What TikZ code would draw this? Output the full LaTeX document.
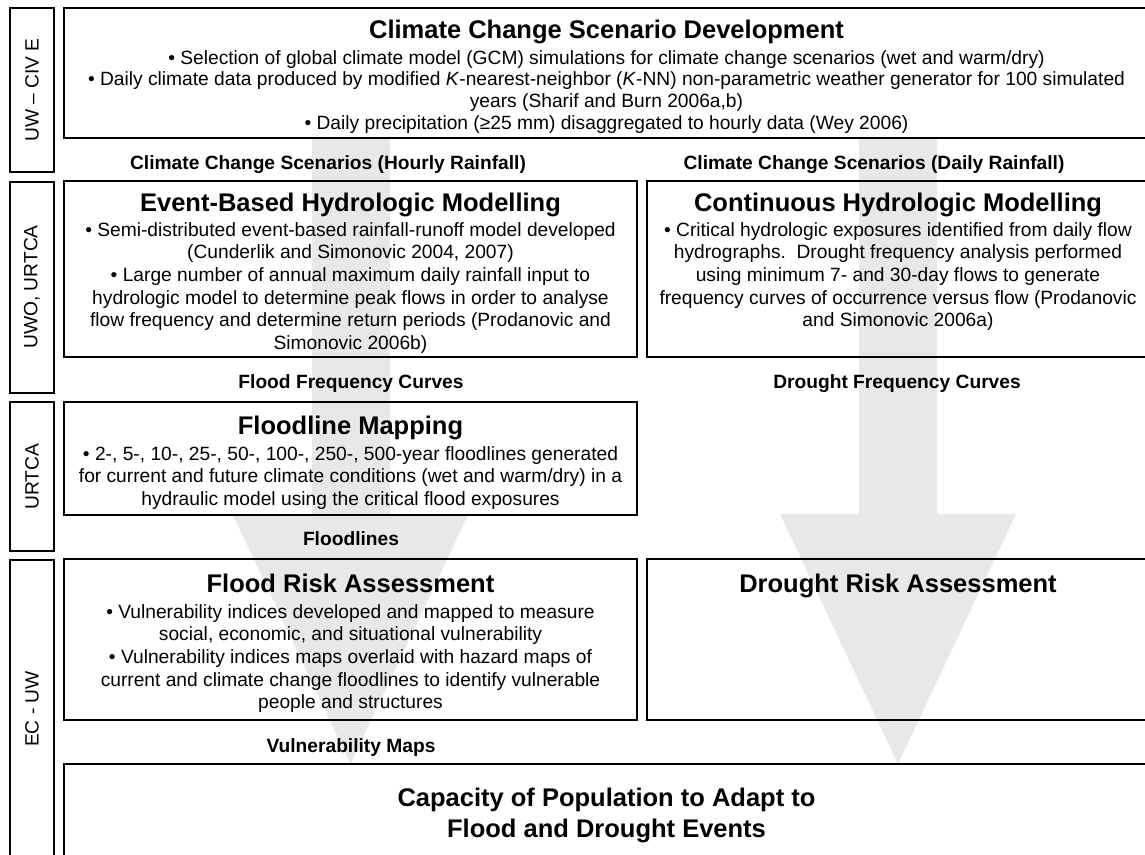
\documentclass[tikz,border=0pt]{standalone}
\usepackage{fontspec}
\setmainfont{Liberation Sans}
\usetikzlibrary{arrows.meta, positioning, calc, backgrounds}
\definecolor{flowgray}{RGB}{232,232,232}
\newcommand{\headfont}{\fontsize{25.5}{31}\selectfont\bfseries}
\newcommand{\bodyfont}{\fontsize{19.2}{22.7}\selectfont}

\begin{document}
\begin{tikzpicture}[x=1pt, y=-1pt,
    panel/.style={draw, line width=2pt, anchor=north west, inner sep=0pt, outer sep=0pt},
    side/.style={draw, line width=2pt, rotate=90, minimum width=#1, minimum height=44,
                 inner sep=0pt, outer sep=0pt, font=\bodyfont},
    head/.style={anchor=base, inner sep=0pt, font=\headfont},
    body/.style={anchor=north, inner sep=0pt, align=center, font=\bodyfont},
    flowlbl/.style={anchor=base, inner sep=0pt, font=\bodyfont\bfseries},
    bigflow/.style={flowgray, line width=78pt,
                    -{Triangle[length=250pt, width=236pt, line width=0pt]}}]
  \useasboundingbox (0,0) rectangle (1145,854);

  % Organisations
  \foreach \i/\yc/\h/\t in {1/90/164/UW – CIV E, 2/287/211/{UWO, URTCA},
                            3/476.5/149/URTCA, 4/709/298/EC - UW} {
    \node[side=\h] (org\i) at (32,\yc) {\t};
  }

  % Panels
  \node[panel, minimum width=1085, minimum height=130] (scen)  at (64,8)   {};
  \node[panel, minimum width=573,  minimum height=176] (event) at (64,181) {};
  \node[panel, minimum width=502,  minimum height=176] (cont)  at (647,181) {};
  \node[panel, minimum width=573,  minimum height=113] (fmap)  at (64,402) {};
  \node[panel, minimum width=573,  minimum height=161] (frisk) at (64,559) {};
  \node[panel, minimum width=502,  minimum height=161] (drisk) at (647,559) {};
  \node[panel, minimum width=1085, minimum height=94]  (adapt) at (64,764) {};

  % Flow arrows
  \begin{scope}[on background layer]
    \draw[bigflow] (scen.south -| event.center) -- (adapt.north -| event.center);
    \draw[bigflow] (scen.south -| cont.center) -- (adapt.north -| cont.center);
  \end{scope}

  % Scenario development
  \node[head] (scen-t) at ($(scen.north)+(0,30)$) {Climate Change Scenario Development};
  \node[body, font=\fontsize{19.2}{21.8}\selectfont] (scen-b) at ($(scen.north)+(0,42)$) {%
    • Selection of global climate model (GCM) simulations for climate change scenarios (wet and warm/dry)\\
    • Daily climate data produced by modified \textit{K}-nearest-neighbor (\textit{K}-NN) non-parametric weather generator for 100 simulated\\
    years (Sharif and Burn 2006a,b)\\
    • Daily precipitation (≥25 mm) disaggregated to hourly data (Wey 2006)};

  % Hydrologic modelling
  \node[head] (event-t) at ($(event.north)+(0,30)$) {Event-Based Hydrologic Modelling};
  \node[body] (event-b) at ($(event.north)+(0,41)$) {%
    • Semi-distributed event-based rainfall-runoff model developed\\
    (Cunderlik and Simonovic 2004, 2007)\\
    • Large number of annual maximum daily rainfall input to\\
    hydrologic model to determine peak flows in order to analyse\\
    flow frequency and determine return periods (Prodanovic and\\
    Simonovic 2006b)};
  \node[head] (cont-t) at ($(cont.north)+(0,30)$) {Continuous Hydrologic Modelling};
  \node[body] (cont-b) at ($(cont.north)+(0,41)$) {%
    • Critical hydrologic exposures identified from daily flow\\
    hydrographs.\ \ Drought frequency analysis performed\\
    using minimum 7- and 30-day flows to generate\\
    frequency curves of occurrence versus flow (Prodanovic\\
    and Simonovic 2006a)};

  % Floodline mapping
  \node[head] (fmap-t) at ($(fmap.north)+(0,32)$) {Floodline Mapping};
  \node[body] (fmap-b) at ($(fmap.north)+(0,44)$) {%
    • 2-, 5-, 10-, 25-, 50-, 100-, 250-, 500-year floodlines generated\\
    for current and future climate conditions (wet and warm/dry) in a\\
    hydraulic model using the critical flood exposures};

  % Risk assessment
  \node[head] (frisk-t) at ($(frisk.north)+(0,33)$) {Flood Risk Assessment};
  \node[body] (frisk-b) at ($(frisk.north)+(0,45)$) {%
    • Vulnerability indices developed and mapped to measure\\
    social, economic, and situational vulnerability\\
    • Vulnerability indices maps overlaid with hazard maps of\\
    current and climate change floodlines to identify vulnerable\\
    people and structures};
  \node[head] (drisk-t) at ($(drisk.north)+(0,33)$) {Drought Risk Assessment};

  % Adaptive capacity
  \node[body, font=\headfont] (adapt-t) at ($(adapt.north)+(0,24)$)
    {Capacity of Population to Adapt to\\ Flood and Drought Events};

  % Products passed between steps
  \foreach \n/\x/\y/\t in {hourly/328/169/Climate Change Scenarios (Hourly Rainfall),
                           daily/874/169/Climate Change Scenarios (Daily Rainfall),
                           ffreq/351/388/Flood Frequency Curves,
                           dfreq/897/388/Drought Frequency Curves,
                           flines/351/545/Floodlines,
                           vmaps/351/752/Vulnerability Maps} {
    \node[flowlbl] (\n) at (\x,\y) {\t};
  }
\end{tikzpicture}
\end{document}
